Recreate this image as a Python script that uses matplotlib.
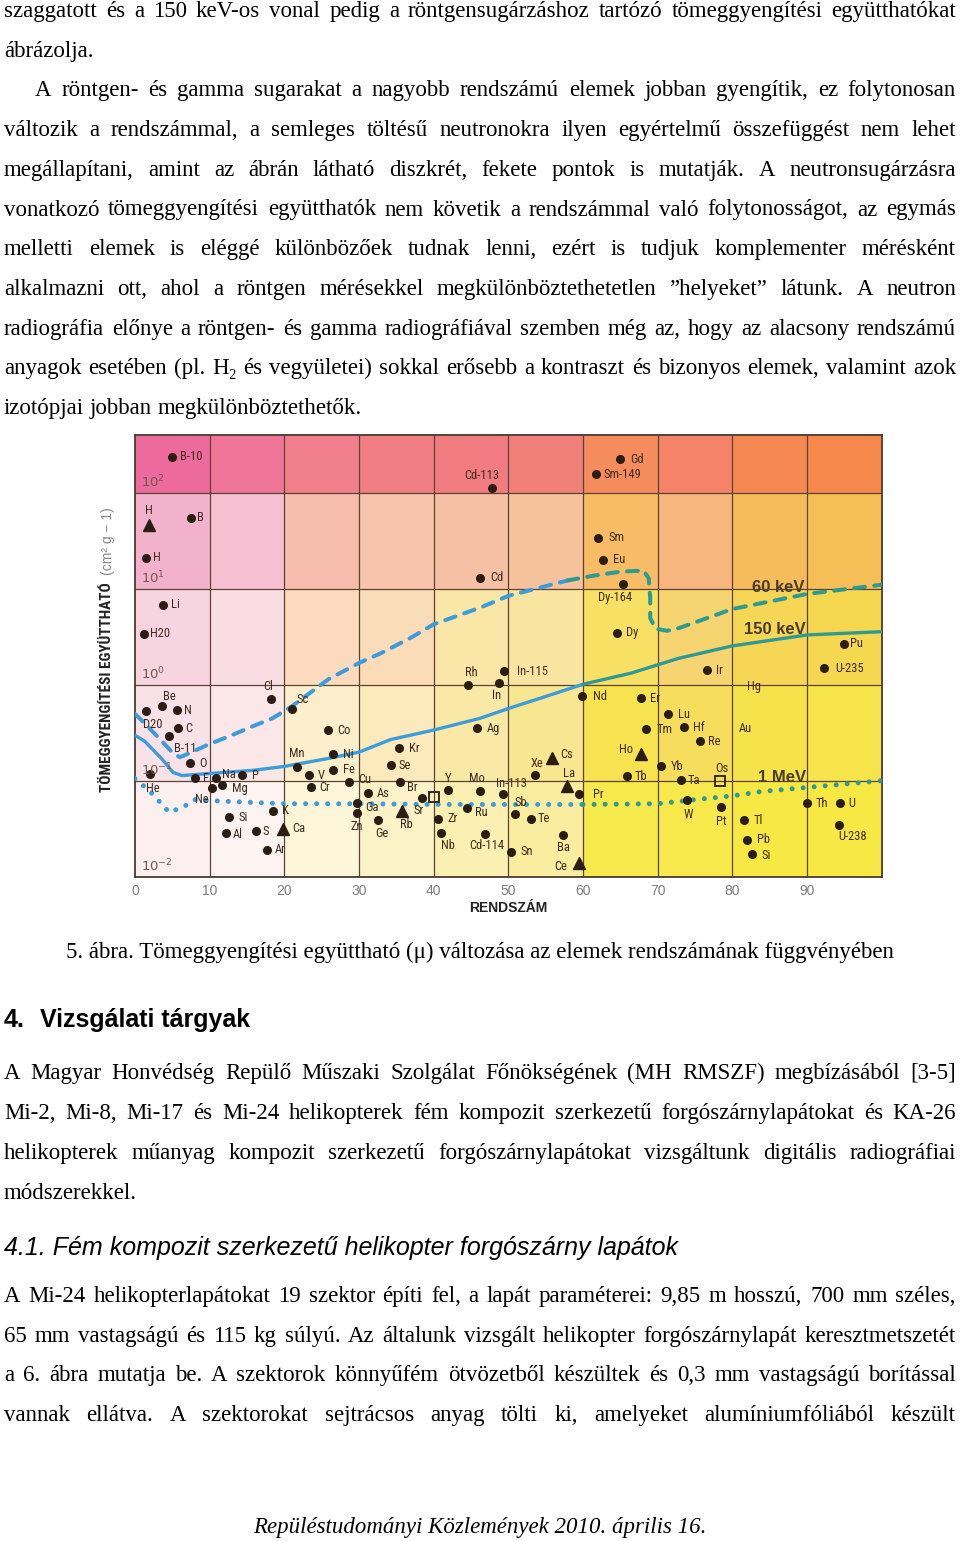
import numpy as np
import matplotlib
matplotlib.use("Agg")
import matplotlib.pyplot as plt
from matplotlib import font_manager
from matplotlib.colors import ListedColormap
from matplotlib.ticker import NullLocator

W, H = 960, 1541

# ---------------- chart data ----------------
# 60 keV x-ray line (dashed), K-edge drop near Z = 69
z_60kev = [0, 1.3, 3.6, 5.1, 6.0, 7.6, 9.8, 12.5, 15.7, 18.4, 21.0, 25.9, 30, 33, 36.9, 40,
           46.2, 50, 57.9, 61.4, 65, 68.1, 68.8, 69.0, 69.0, 69.7, 71.3, 73, 80, 90, 100]
mu_60kev = [0.50, 0.40, 0.26, 0.195, 0.177, 0.20, 0.24, 0.29, 0.37, 0.45, 0.60, 1.15, 1.7, 2.16,
            3.1, 4.3, 6.4, 8.5, 12.3, 13.8, 15.2, 15.6, 13.0, 8.1, 5.0, 3.86, 3.68, 3.96, 6.2, 8.9, 11.1]

# 150 keV x-ray line (solid)
z_150kev = [0, 1.3, 3.6, 5.1, 6.3, 10, 15.7, 20, 25.9, 30, 34.2, 40, 46.2, 50, 55.2, 60,
            66.4, 72.8, 80, 90, 100]
mu_150kev = [0.30, 0.26, 0.17, 0.123, 0.114, 0.12, 0.129, 0.142, 0.172, 0.20, 0.27, 0.34,
             0.45, 0.57, 0.77, 1.02, 1.33, 1.9, 2.56, 3.33, 3.6]

# 1 MeV gamma line (dotted)
z_1mev = [0, 1.6, 2.7, 3.6, 4.6, 6.7, 8, 10, 20, 30, 40, 50, 60, 70, 75, 80, 84, 88, 93, 97, 100]
mu_1mev = [0.106, 0.083, 0.069, 0.057, 0.047, 0.055, 0.064, 0.0625, 0.058, 0.058, 0.057, 0.057,
           0.057, 0.058, 0.064, 0.070, 0.078, 0.083, 0.090, 0.096, 0.101]

# neutron mass attenuation coefficients of elements / isotopes
elem_name = ['B-10', 'H', 'B', 'H', 'Li', 'H20', 'Cd-113', 'Gd', 'Sm-149', 'Sm',
             'Eu', 'Cd', 'Dy-164', 'Dy', 'Pu', 'Cl', 'Sc', 'Be', 'D20', 'N',
             'C', 'B-11', 'O', 'He', 'F', 'Na', 'P', 'Ne', 'Mg', 'Si',
             'Al', 'S', 'K', 'Ca', 'Ar', 'Co', 'Mn', 'Ni', 'Fe', 'V',
             'Cr', 'Cu', 'As', 'Ga', 'Zn', 'Ge', 'Rh', 'In-115', 'In', 'Nd',
             'Ag', 'Kr', 'Se', 'Br', 'Sr', 'Rb', '', 'Y', 'Mo', 'In-113',
             'Ru', 'Sb', 'Te', 'Zr', 'Nb', 'Cd-114', 'Sn', 'Xe', 'Cs', 'La',
             'Pr', 'Ba', 'Ce', 'Er', 'Tm', 'Ho', 'Tb', 'Yb', 'Ir', 'Lu',
             'Hf', 'Re', 'Ta', 'Os', 'W', 'Pt', 'Tl', 'Pb', 'Si', 'Th',
             'U', 'U-238', 'U-235']
elem_z = [4.96, 1.87, 7.50, 1.47, 3.75, 1.21, 47.8, 64.95, 61.7, 62.0,
          62.7, 46.2, 65.35, 64.55, 94.95, 18.2, 21.0, 3.62, 1.47, 5.62,
          5.76, 4.55, 7.37, 2.01, 8.04, 10.85, 14.33, 10.31, 11.65, 12.59,
          12.19, 16.2, 18.48, 19.82, 17.68, 25.85, 21.7, 26.5, 26.5, 23.3,
          23.57, 28.66, 31.2, 29.73, 29.73, 32.54, 44.6, 49.4, 48.75, 59.9,
          45.8, 35.36, 34.28, 35.5, 38.4, 35.76, 40.04, 41.9, 46.2, 49.3,
          44.46, 50.9, 53.0, 40.6, 41.0, 46.9, 50.4, 53.6, 55.85, 57.85,
          59.46, 57.3, 59.46, 67.8, 68.4, 67.8, 65.9, 70.4, 76.6, 71.4,
          73.5, 75.7, 73.1, 78.35, 73.9, 78.5, 81.6, 82.0, 82.6, 90.0,
          94.4, 94.3, 92.3]
elem_mu = [240, 47.0, 55.7, 21.2, 6.86, 3.41, 112, 225, 157, 34.4,
           20.3, 13.1, 11.4, 3.50, 2.68, 0.714, 0.561, 0.603, 0.535, 0.548,
           0.356, 0.293, 0.153, 0.1175, 0.1067, 0.1067, 0.1146, 0.0838, 0.0901, 0.0417,
           0.0290, 0.0298, 0.0493, 0.0320, 0.0193, 0.339, 0.139, 0.190, 0.129, 0.1146,
           0.0859, 0.0969, 0.0743, 0.0584, 0.0459, 0.0388, 1.0, 1.40, 1.05, 0.767,
           0.356, 0.2195, 0.146, 0.0969, 0.0659, 0.0482, 0.0675, 0.0798, 0.078, 0.0726,
           0.0518, 0.0449, 0.0407, 0.0407, 0.0290, 0.0283, 0.0184, 0.1146, 0.1726, 0.0880,
           0.0726, 0.0277, 0.0141, 0.731, 0.347, 0.190, 0.112, 0.142, 1.435, 0.497,
           0.364, 0.260, 0.1016, 0.0992, 0.0628, 0.0531, 0.0388, 0.0245, 0.0175, 0.0584,
           0.0584, 0.0352, 1.506]
elem_kind = ['o', '^', 'o', 'o', 'o', 'o', 'o', 'o', 'o', 'o',
             'o', 'o', 'o', 'o', 'o', 'o', 'o', 'o', 'o', 'o',
             'o', 'o', 'o', 'o', 'o', 'o', 'o', 'o', 'o', 'o',
             'o', 'o', 'o', '^', 'o', 'o', 'o', 'o', 'o', 'o',
             'o', 'o', 'o', 'o', 'o', 'o', 'o', 'o', 'o', 'o',
             'o', 'o', 'o', 'o', 'o', '^', 's', 'o', 'o', 'o',
             'o', 'o', 'o', 'o', 'o', 'o', 'o', 'o', '^', '^',
             'o', 'o', '^', 'o', 'o', '^', 'o', 'o', 'o', 'o',
             'o', 'o', 'o', 's', 'o', 'o', 'o', 'o', 'o', 'o',
             'o', 'o', 'o']

# names printed without a marker
note_name = ['Hg', 'Au']
note_z = [82.9, 81.7]
note_mu = [0.976, 0.355]

z_ticks = [0, 10, 20, 30, 40, 50, 60, 70, 80, 90]
decades = [2, 1, 0, -1, -2]

curve_name = ['60 keV', '150 keV', '1 MeV']
curve_label_z = [86.1, 85.7, 86.6]
curve_label_mu = [10.3, 3.76, 0.109]

# ---------------- page text ----------------
para1 = [
    ("szaggatott és a 150 keV-os vonal pedig a röntgensugárzáshoz tartózó tömeggyengítési együtthatókat", True, 4),
    ("ábrázolja.", False, 4),
    ("A röntgen- és gamma sugarakat a nagyobb rendszámú elemek jobban gyengítik, ez folytonosan", True, 35),
    ("változik a rendszámmal, a semleges töltésű neutronokra ilyen egyértelmű összefüggést nem lehet", True, 4),
    ("megállapítani, amint az ábrán látható diszkrét, fekete pontok is mutatják. A neutronsugárzásra", True, 4),
    ("vonatkozó tömeggyengítési együtthatók nem követik a rendszámmal való folytonosságot, az egymás", True, 4),
    ("melletti elemek is eléggé különbözőek tudnak lenni, ezért is tudjuk komplementer mérésként", True, 4),
    ("alkalmazni ott, ahol a röntgen mérésekkel megkülönböztethetetlen ”helyeket” látunk. A neutron", True, 4),
    ("radiográfia előnye a röntgen- és gamma  radiográfiával szemben még az, hogy az alacsony rendszámú", True, 4),
    ("anyagok esetében (pl. H₂ és vegyületei) sokkal erősebb a kontraszt és bizonyos elemek, valamint azok", True, 4),
    ("izotópjai jobban megkülönböztethetők.", False, 4),
]
caption = "5. ábra. Tömeggyengítési együttható (μ) változása az elemek rendszámának függvényében"
para2 = [
    ("A Magyar Honvédség Repülő Műszaki Szolgálat Főnökségének (MH RMSZF) megbízásából [3-5]", True),
    ("Mi-2, Mi-8, Mi-17 és Mi-24 helikopterek fém kompozit szerkezetű forgószárnylapátokat és KA-26", True),
    ("helikopterek műanyag kompozit szerkezetű forgószárnylapátokat vizsgáltunk digitális radiográfiai", True),
    ("módszerekkel.", False),
]
para3 = [
    ("A Mi-24 helikopterlapátokat 19 szektor építi fel, a lapát paraméterei: 9,85 m hosszú, 700 mm széles,", True),
    ("65 mm vastagságú és 115 kg súlyú. Az általunk vizsgált helikopter forgószárnylapát keresztmetszetét", True),
    ("a 6. ábra mutatja be. A szektorok könnyűfém ötvözetből készültek és 0,3 mm vastagságú borítással", True),
    ("vannak ellátva. A szektorokat sejtrácsos anyag tölti ki, amelyeket alumíniumfóliából készült", True),
]

# ---------------- styles ----------------
available = {f.name for f in font_manager.fontManager.ttflist}
narrow = next((f for f in ['Liberation Sans Narrow', 'Roboto Condensed', 'Open Sans Condensed']
               if f in available), None)
label_family = [narrow, 'DejaVu Sans'] if narrow else ['Liberation Sans', 'DejaVu Sans']
label_size = 9 if narrow else 8
serif = ['Liberation Serif', 'DejaVu Serif']
sans = ['Liberation Sans', 'DejaVu Sans']
ink = '#2b1d14'
label_col = '#3e2a1c'

# label offsets in pixels (dx, dy down, alignment) for each element above
label_pos = [(8, 0, 'l'), (0, -14, 'c'), (6, 0, 'l'), (7, 0, 'l'), (8, 0, 'l'), (6, 0, 'l'), (-10, -13, 'c'), (10, 0, 'l'), (8, 0, 'l'), (11, 0, 'l'),
             (10, 0, 'l'), (10, 0, 'l'), (-8, 14, 'c'), (9, 0, 'l'), (6, 0, 'l'), (-3, -13, 'c'), (11, -10, 'c'), (7, -10, 'c'), (7, 13, 'c'), (7, 0, 'l'),
             (7, 0, 'l'), (16, 12, 'c'), (9, 0, 'l'), (3, 14, 'c'), (8, 0, 'l'), (6, -4, 'l'), (10, 0, 'l'), (-10, 11, 'c'), (10, 3, 'l'), (9, 0, 'l'),
             (7, 2, 'l'), (7, 0, 'l'), (9, 0, 'l'), (9, 0, 'l'), (8, 0, 'l'), (9, 0, 'l'), (0, -14, 'c'), (10, 0, 'l'), (10, -1, 'l'), (9, 0, 'l'),
             (8, 0, 'l'), (9, -3, 'l'), (9, 0, 'l'), (8, 4, 'l'), (0, 13, 'c'), (4, 13, 'c'), (3, -13, 'c'), (13, 0, 'l'), (-2, 12, 'c'), (11, 0, 'l'),
             (10, 0, 'l'), (10, 0, 'l'), (8, 0, 'l'), (7, 5, 'l'), (-3, 12, 'c'), (4, 13, 'c'), (0, 0, 'c'), (0, -12, 'c'), (-3, -13, 'c'), (8, -11, 'c'),
             (8, 4, 'l'), (6, -12, 'c'), (7, 0, 'l'), (9, 0, 'l'), (7, 13, 'c'), (2, 12, 'c'), (9, 0, 'l'), (2, -12, 'c'), (8, -4, 'l'), (2, -13, 'c'),
             (14, 0, 'l'), (1, 13, 'c'), (-12, 4, 'r'), (9, 0, 'l'), (11, 0, 'l'), (-8, -5, 'r'), (8, 0, 'l'), (10, 0, 'l'), (9, 0, 'l'), (10, 0, 'l'),
             (9, 0, 'l'), (8, 0, 'l'), (7, 0, 'l'), (2, -13, 'c'), (2, 14, 'c'), (0, 14, 'c'), (9, 0, 'l'), (10, 0, 'l'), (10, 2, 'l'), (9, 0, 'l'),
             (8, 0, 'l'), (13, 12, 'c'), (11, 0, 'l')]
ha_map = {'l': 'left', 'c': 'center', 'r': 'right'}

# background cells, top row first (Z columns 0-10, 10-20, ...)
cell_colors = [
    ['#ec6a9c', '#ef7699', '#f17f8c', '#f17e82', '#f07c80', '#f17f7a', '#f58c5e', '#f4836a', '#f48752', '#f5884a'],
    ['#f3b2cc', '#f6c0d2', '#f6bcac', '#f7c4ac', '#f6c0a4', '#f6c29c', '#f8bb66', '#f6b67e', '#f6bc5c', '#f6be56'],
    ['#f8d3e0', '#fadde2', '#fbdabe', '#fbdcb8', '#fae6a6', '#f9e4a0', '#f8e064', '#f6d470', '#f6d654', '#f6d850'],
    ['#f9e1e8', '#fbe6e8', '#fdefcc', '#fce9bc', '#fae9a6', '#f8e690', '#f7e250', '#f6de5c', '#f6e24a', '#f6e44a'],
    ['#fcefef', '#fdf3f1', '#fdf6d8', '#fcf2c8', '#fbefb2', '#faeda0', '#f7ea4c', '#f7e94c', '#f7e844', '#f7e844'],
]

fig = plt.figure(figsize=(W / 100, H / 100), dpi=100)
renderer = fig.canvas.get_renderer()


def fy(y):
    return 1 - y / H


def text_line(s, y, x0=4, x1=956, justify=True, size=16.5, family=serif, **kw):
    words = s.split()
    objs = [fig.text(0, fy(y), w, size=size, family=family, va='baseline', ha='left', **kw)
            for w in words]
    widths = [o.get_window_extent(renderer).width for o in objs]
    if justify and len(words) > 1:
        gap = (x1 - x0 - sum(widths)) / (len(words) - 1)
    else:
        gap = 0.25 * size * 100 / 72
    x = x0
    for o, w in zip(objs, widths):
        o.set_x(x / W)
        x += w + gap


# ---------------- page text ----------------
for i, (s, just, x0) in enumerate(para1):
    text_line(s, 17 + 39.7 * i, x0=x0, justify=just)

fig.text(0.5, fy(958), caption, size=16.5, family=serif, ha='center', va='baseline')
fig.text(4 / W, fy(1027), "4.", size=18, family=sans, weight='bold', va='baseline')
fig.text(40 / W, fy(1027), "Vizsgálati tárgyak", size=18, family=sans, weight='bold', va='baseline')
for i, (s, just) in enumerate(para2):
    text_line(s, 1079 + 40 * i, justify=just)
fig.text(4 / W, fy(1255), "4.1. Fém kompozit szerkezetű helikopter forgószárny lapátok",
         size=18, family=sans, style='italic', va='baseline')
for i, (s, just) in enumerate(para3):
    text_line(s, 1302 + 39.7 * i, justify=just)
fig.text(0.5, fy(1533), "Repüléstudományi Közlemények 2010. április 16.", size=16.5,
         family=serif, style='italic', ha='center', va='baseline')

# ---------------- chart ----------------
ytop = 10 ** 2.606
ax = fig.add_axes([135 / W, fy(877), (881.7 - 135) / W, (877 - 435) / H])
ax.set_yscale('log')
ax.set_xlim(0, 100)
ax.set_ylim(1e-2, ytop)

x_edges = np.arange(0, 101, 10)
y_edges = [1e-2, 1e-1, 1, 10, 100, ytop]
flat = [c for row in cell_colors[::-1] for c in row]
ax.pcolormesh(x_edges, y_edges, np.arange(50).reshape(5, 10), cmap=ListedColormap(flat),
              vmin=-0.5, vmax=49.5, shading='flat', zorder=0)

for z in z_ticks[1:]:
    ax.axvline(z, color='#5a4434', lw=0.9, zorder=1)
for k in decades[:-1]:
    ax.axhline(10.0 ** k, color='#5a4434', lw=0.9, zorder=1)

for s in ax.spines.values():
    s.set_color('#4a3a30')
    s.set_linewidth(1.3)
ax.set_xticks(z_ticks)
ax.set_xticklabels([str(z) for z in z_ticks], family=sans, size=10, color='#7d7d7d')
ax.set_yticks([])
ax.yaxis.set_minor_locator(NullLocator())
ax.tick_params(length=0, pad=5)

blue, teal = '#3d9dda', '#2e9a92'


def split_draw(z, mu, zsplit, **kw):
    z = np.asarray(z)
    mu = np.asarray(mu)
    i = int(np.argmax(z >= zsplit))
    ax.plot(z[:i + 1], mu[:i + 1], color=blue, zorder=3, **kw)
    ax.plot(z[i:], mu[i:], color=teal, zorder=3, **kw)


split_draw(z_60kev, mu_60kev, 57.9, lw=2.9, linestyle=(0, (2.7, 2.3)), dash_capstyle='round')
split_draw(z_150kev, mu_150kev, 60, lw=2.4, solid_capstyle='round')
split_draw(z_1mev, mu_1mev, 60, lw=3.6, linestyle=(0, (0.01, 2.2)), dash_capstyle='round')

z_arr = np.asarray(elem_z)
mu_arr = np.asarray(elem_mu)
kind = np.asarray(elem_kind)
m = kind == 'o'
ax.plot(z_arr[m], mu_arr[m], 'o', ms=5.5, color=ink, mec=ink, zorder=4)
m = kind == '^'
ax.plot(z_arr[m], mu_arr[m], '^', ms=8, color=ink, mec=ink, zorder=4)
m = kind == 's'
ax.plot(z_arr[m], mu_arr[m], 's', ms=7.5, mfc='none', mec=ink, mew=1.3, zorder=4)

for name, z, mu, (dx, dy, a) in zip(elem_name, elem_z, elem_mu, label_pos):
    if not name:
        continue
    ax.annotate(name, (z, mu), xytext=(dx, -dy), textcoords='offset pixels',
                ha=ha_map[a], va='center', size=label_size, family=label_family,
                color=label_col, zorder=5)
for name, z, mu in zip(note_name, note_z, note_mu):
    ax.text(z, mu, name, ha='center', va='center', size=label_size, family=label_family,
            color=label_col, zorder=5)

for k in decades:
    ax.annotate(r'$10^{%d}$' % k, (0.8, 10.0 ** k), xytext=(0, 6), textcoords='offset pixels',
                ha='left', va='baseline', size=9.5, color='#6e5a4c', zorder=5)

for name, z, mu in zip(curve_name, curve_label_z, curve_label_mu):
    ax.text(z, mu, name, ha='center', va='center', size=12, weight='bold', family=sans,
            color='#4a3a28', zorder=5)

fig.text(508 / W, fy(908), "RENDSZÁM", ha='center', va='center', size=10, weight='bold',
         family=sans, color='#222222')
ylab_family = label_family if narrow else sans
fig.text(107 / W, fy(687), "TÖMEGGYENGÍTÉSI EGYÜTTHATÓ", rotation=90, ha='center', va='center',
         size=11 if narrow else 9, weight='bold', family=ylab_family, color='#222222')
fig.text(108 / W, fy(541), "(cm² g − 1)", rotation=90, ha='center', va='center',
         size=10, family=sans, color='#8a8a8a')

fig.savefig('out.png', dpi=100)
